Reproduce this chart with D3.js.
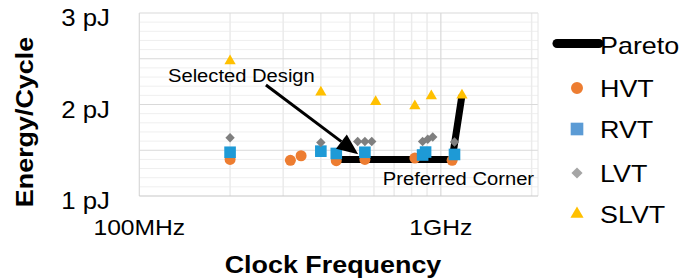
<!DOCTYPE html>
<html>
<head>
<meta charset="utf-8">
<script src="https://cdn.jsdelivr.net/npm/d3@7"></script>
<style>
  html, body { margin: 0; padding: 0; background: #fff; }
  svg { display: block; font-family: "Liberation Sans", Arial, sans-serif; }
</style>
</head>
<body>
<svg id="chart" width="700" height="280"></svg>
<script>
// ---- data (frequency in MHz, energy in pJ) ----
const xTickValues = [100, 1000];
const xTickLabels = ["100MHz", "1GHz"];
const yTickValues = [1, 2, 3];
const yTickLabels = ["1 pJ", "2 pJ", "3 pJ"];

const hvtFreq   = [200, 317, 344, 450, 560, 820, 1090];
const hvtEnergy = [1.40, 1.39, 1.44, 1.386, 1.40, 1.415, 1.39];

const rvtFreq   = [200, 400, 450, 560, 870, 890, 1110];
const rvtEnergy = [1.478, 1.49, 1.465, 1.478, 1.448, 1.48, 1.454];

const lvtFreq   = [200, 400, 530, 560, 590, 870, 905, 940, 1110];
const lvtEnergy = [1.637, 1.585, 1.595, 1.595, 1.595, 1.595, 1.62, 1.645, 1.59];

const slvtFreq   = [200, 400, 608, 820, 930, 1175];
const slvtEnergy = [2.475, 2.133, 2.03, 1.984, 2.093, 2.10];

const paretoFreq   = [450, 560, 820, 1090, 1175];
const paretoEnergy = [1.40, 1.40, 1.40, 1.40, 2.10];

const seriesNames = ["Pareto", "HVT", "RVT", "LVT", "SLVT"];

// annotations (data units)
const selectedLabel = "Selected Design";
const selectedText = [124.5, 2.246];
const arrowFrom = [263, 2.213];
const arrowTo = [532, 1.456];
const cornerLabel = "Preferred Corner";
const cornerText = [642, 1.12];

// ---- layout ----
const svg = d3.select("#chart");
const x = d3.scaleLog().domain([100, 2100]).range([139.3, 538]);
const y = d3.scaleLinear().domain([1, 3]).range([196, 13]);
const STRETCH = 1.12;

function stretch(sel) {
  sel.each(function () {
    const w = this.getComputedTextLength();
    d3.select(this).attr("textLength", w * STRETCH).attr("lengthAdjust", "spacingAndGlyphs");
  });
  return sel;
}

// gridlines
const g = svg.append("g");
const yMinor = d3.range(1, 3.0001, 0.1).map(v => +v.toFixed(1));
g.selectAll("line.hmin").data(yMinor.filter(v => Math.abs(v * 2 - Math.round(v * 2)) > 1e-6))
  .join("line").attr("x1", x(100)).attr("x2", x(2100))
  .attr("y1", d => y(d)).attr("y2", d => y(d))
  .attr("stroke", "#efefef").attr("stroke-width", 1);
const xMinor = [200, 300, 400, 500, 600, 700, 800, 900, 2000];
g.selectAll("line.vmin").data(xMinor).join("line")
  .attr("x1", d => x(d)).attr("x2", d => x(d))
  .attr("y1", y(1)).attr("y2", y(3))
  .attr("stroke", "#ebebeb").attr("stroke-width", 1.5);
g.selectAll("line.hmaj").data([1.5, 2, 2.5, 3]).join("line")
  .attr("x1", x(100)).attr("x2", x(2100))
  .attr("y1", d => y(d)).attr("y2", d => y(d))
  .attr("stroke", "#d9d9d9").attr("stroke-width", 1.2);
g.selectAll("line.vmaj").data([100, 1000]).join("line")
  .attr("x1", d => x(d)).attr("x2", d => x(d))
  .attr("y1", y(1)).attr("y2", y(3))
  .attr("stroke", "#d9d9d9").attr("stroke-width", 1.2);
g.append("line").attr("x1", x(2100)).attr("x2", x(2100)).attr("y1", y(1)).attr("y2", y(3))
  .attr("stroke", "#e6e6e6").attr("stroke-width", 1);
g.append("line").attr("x1", x(100)).attr("x2", x(2100)).attr("y1", y(1)).attr("y2", y(1))
  .attr("stroke", "#c8c8c8").attr("stroke-width", 1.2);

// tick labels
svg.append("g").selectAll("text").data(yTickValues).join("text")
  .attr("x", 110).attr("y", d => y(d) + 13)
  .attr("text-anchor", "end").attr("font-size", 23).attr("fill", "#000")
  .text((d, i) => yTickLabels[i]).call(stretch);
svg.append("g").selectAll("text").data(xTickValues).join("text")
  .attr("x", d => x(d)).attr("y", 235)
  .attr("text-anchor", "middle").attr("font-size", 22).attr("fill", "#000")
  .text((d, i) => xTickLabels[i]).call(stretch);

// axis titles
svg.append("text").attr("transform", "translate(33,122) rotate(-90)")
  .attr("text-anchor", "middle").attr("font-size", 24).attr("font-weight", "bold")
  .text("Energy/Cycle").call(stretch);
svg.append("text").attr("x", 333).attr("y", 273)
  .attr("text-anchor", "middle").attr("font-size", 24).attr("font-weight", "bold")
  .text("Clock Frequency").call(stretch);

// pareto line
const pareto = paretoFreq.map((f, i) => [f, paretoEnergy[i]]);
svg.append("path").datum(pareto)
  .attr("d", d3.line().x(d => x(d[0])).y(d => y(d[1])))
  .attr("fill", "none").attr("stroke", "#000").attr("stroke-width", 7)
  .attr("stroke-linejoin", "round");

// markers
const sym = {
  HVT: d3.symbol(d3.symbolCircle, 95),
  RVT: d3.symbol(d3.symbolSquare, 135),
  LVT: d3.symbol(d3.symbolSquare, 44),
  SLVT: d3.symbol(d3.symbolTriangle, 55)
};
const rot = { HVT: 0, RVT: 0, LVT: 45, SLVT: 0 };
const plotColor = { HVT: "#ED7D31", RVT: "#1E9AD6", LVT: "#7F7F7F", SLVT: "#FFC000" };
const legendColor = { HVT: "#ED7D31", RVT: "#5B9BD5", LVT: "#A5A5A5", SLVT: "#FFC000" };
const series = [
  ["HVT", hvtFreq, hvtEnergy],
  ["RVT", rvtFreq, rvtEnergy],
  ["LVT", lvtFreq, lvtEnergy],
  ["SLVT", slvtFreq, slvtEnergy]
];
series.forEach(([name, fs, es]) => {
  svg.append("g").selectAll("path").data(fs.map((f, i) => [f, es[i]])).join("path")
    .attr("transform", d => `translate(${x(d[0])},${y(d[1])}) rotate(${rot[name]})`)
    .attr("d", sym[name]).attr("fill", plotColor[name]);
});

// annotations
svg.append("text").attr("x", x(selectedText[0])).attr("y", y(selectedText[1]))
  .attr("font-size", 18).text(selectedLabel).call(stretch);
svg.append("text").attr("x", x(cornerText[0])).attr("y", y(cornerText[1]))
  .attr("font-size", 18).text(cornerLabel).call(stretch);

const x0 = x(arrowFrom[0]), y0 = y(arrowFrom[1]), x1 = x(arrowTo[0]), y1 = y(arrowTo[1]);
const ang = Math.atan2(y1 - y0, x1 - x0);
const headLen = 21, headW = 9;
const bx = x1 - headLen * Math.cos(ang), by = y1 - headLen * Math.sin(ang);
svg.append("line").attr("x1", x0).attr("y1", y0).attr("x2", bx).attr("y2", by)
  .attr("stroke", "#000").attr("stroke-width", 3);
svg.append("path")
  .attr("d", `M${x1},${y1}L${bx + headW * Math.sin(ang)},${by - headW * Math.cos(ang)}L${bx - headW * Math.sin(ang)},${by + headW * Math.cos(ang)}Z`)
  .attr("fill", "#000");

// legend
const leg = svg.append("g");
const legBase = [54, 97, 138, 182, 223];
leg.append("line").attr("x1", 557).attr("x2", 599).attr("y1", legBase[0] - 10.5).attr("y2", legBase[0] - 10.5)
  .attr("stroke", "#000").attr("stroke-width", 9).attr("stroke-linecap", "round");
const legSym = {
  HVT: d3.symbol(d3.symbolCircle, 113),
  RVT: d3.symbol(d3.symbolSquare, 160),
  LVT: d3.symbol(d3.symbolSquare, 62),
  SLVT: d3.symbol(d3.symbolTriangle, 75)
};
["HVT", "RVT", "LVT", "SLVT"].forEach((n, i) => {
  leg.append("path").attr("transform", `translate(577,${legBase[i + 1] - 9}) rotate(${rot[n]})`)
    .attr("d", legSym[n]).attr("fill", legendColor[n]);
});
leg.selectAll("text").data(seriesNames).join("text")
  .attr("x", 600).attr("y", (d, i) => legBase[i])
  .attr("font-size", 24).text(d => d).call(stretch);
</script>
</body>
</html>
